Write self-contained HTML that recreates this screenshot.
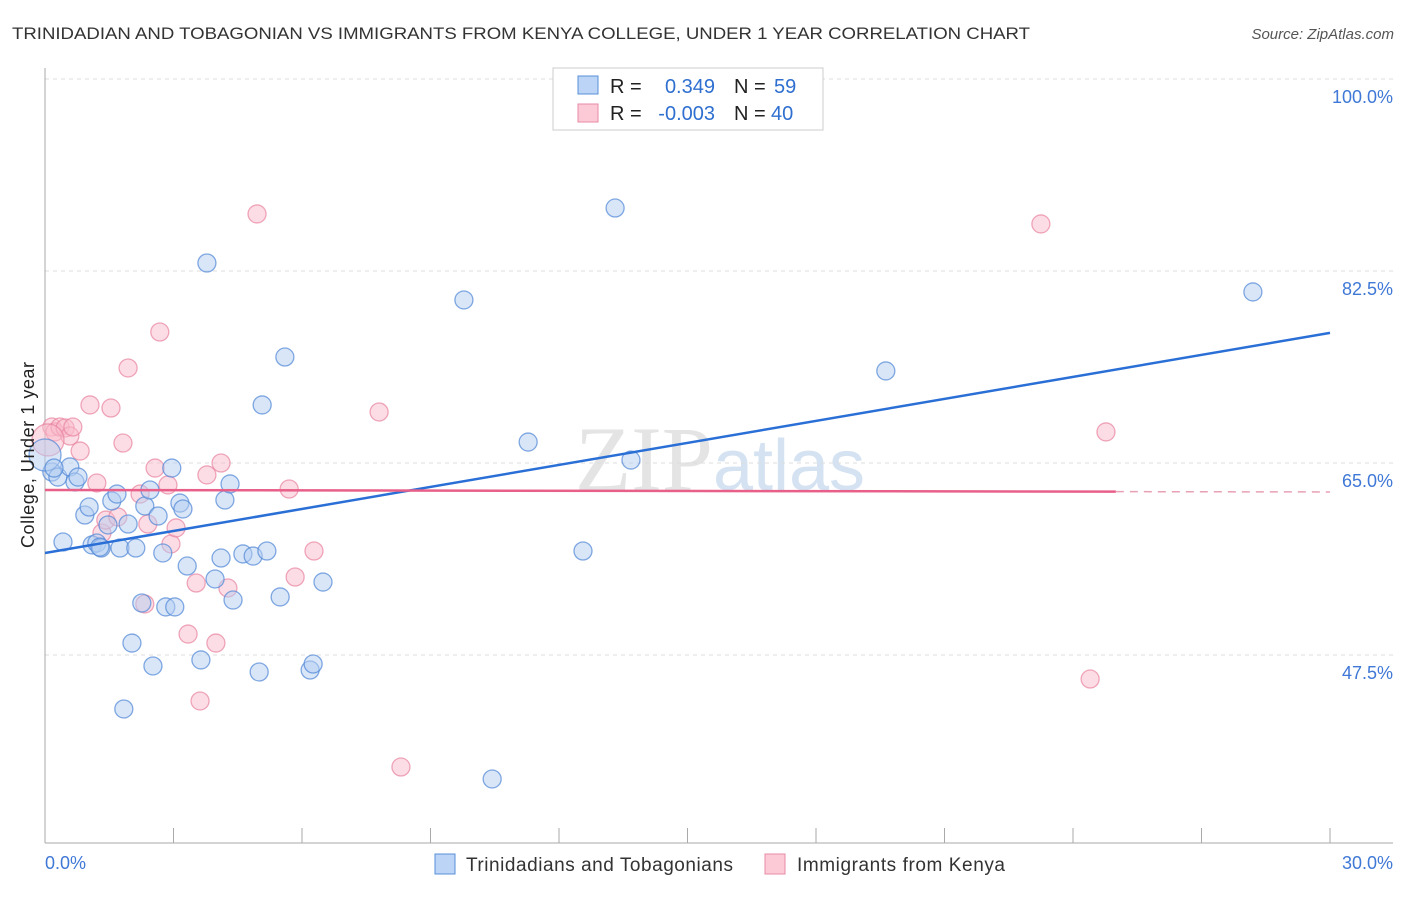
<!DOCTYPE html>
<html><head><meta charset="utf-8"><style>
body{margin:0;background:#fff;font-family:"Liberation Sans",sans-serif;}
</style></head><body>
<svg width="1406" height="892" xmlns="http://www.w3.org/2000/svg" font-family="Liberation Sans, sans-serif">
<text x="12" y="39" font-size="17" fill="#333" textLength="1018" lengthAdjust="spacingAndGlyphs">TRINIDADIAN AND TOBAGONIAN VS IMMIGRANTS FROM KENYA COLLEGE, UNDER 1 YEAR CORRELATION CHART</text>
<text x="1394" y="39" font-size="15" fill="#555" font-style="italic" text-anchor="end">Source: ZipAtlas.com</text>
<text x="720" y="490" font-size="92" fill="#e4e4e4" text-anchor="middle" font-family="Liberation Serif, serif">ZIP<tspan fill="#d4e2f2" font-family="Liberation Sans, sans-serif" font-size="72">atlas</tspan></text>
<g id="grid"></g>
<g id="axes"></g>
<g id="marks"></g>
<g id="trends"></g>
<text x="34" y="455" font-size="18" fill="#222" transform="rotate(-90 34 455)" text-anchor="middle" textLength="186">College, Under 1 year</text>
<g>
<rect x="553" y="68" width="270" height="62" fill="#fff" stroke="#ccc"/>
<rect x="578" y="76" width="20" height="18" fill="#bcd4f5" stroke="#5a8fd8"/>
<rect x="578" y="104" width="20" height="18" fill="#fcc9d6" stroke="#e88aa5"/>
<text x="610" y="93" font-size="20" fill="#222">R =</text>
<text x="715" y="93" font-size="20" fill="#2f6fd0" text-anchor="end">0.349</text>
<text x="734" y="93" font-size="20" fill="#222">N =</text>
<text x="774" y="93" font-size="20" fill="#2f6fd0">59</text>
<text x="610" y="120" font-size="20" fill="#222">R =</text>
<text x="715" y="120" font-size="20" fill="#2f6fd0" text-anchor="end">-0.003</text>
<text x="734" y="120" font-size="20" fill="#222">N =</text>
<text x="771" y="120" font-size="20" fill="#2f6fd0">40</text>
</g>
<g>
<rect x="435" y="854" width="20" height="20" fill="#bcd4f5" stroke="#5a8fd8"/>
<text x="466" y="871" font-size="19" fill="#333" textLength="267">Trinidadians and Tobagonians</text>
<rect x="765" y="854" width="20" height="20" fill="#fcc9d6" stroke="#e88aa5"/>
<text x="797" y="871" font-size="19" fill="#333" textLength="208">Immigrants from Kenya</text>
</g>
</svg>
<script>
const blueX=[0.16,0.30,0.58,0.70,0.77,0.93,1.03,1.10,1.21,1.31,1.47,1.56,1.68,1.75,1.94,2.03,1.84,2.12,2.26,2.33,2.45,2.52,2.64,2.75,2.82,2.96,3.03,3.15,3.22,3.32,3.64,3.78,3.97,4.11,4.20,4.32,4.39,4.62,4.86,5.00,5.07,5.18,5.49,5.60,6.19,6.26,6.49,9.78,10.44,11.28,12.56,13.31,13.68,19.63,28.20,0,0.42,0.21,1.28];
const blueY=[64.18,63.72,64.64,63.27,63.72,60.26,60.99,57.53,57.71,57.25,59.35,61.54,62.17,57.25,59.44,48.59,42.58,57.25,52.24,61.08,62.54,46.50,60.17,56.80,51.88,64.54,51.88,61.35,60.81,55.61,47.05,83.23,54.43,56.34,61.63,63.09,52.51,56.71,56.52,45.95,70.29,56.98,52.79,74.66,46.13,46.68,54.15,79.86,36.20,66.91,56.98,88.24,65.27,73.39,80.59,65.73,57.80,64.54,57.34];
const blueBig=[55];
const pinkX=[0.16,0.23,0.35,0.47,0.58,0.65,0.82,1.05,1.21,1.33,1.42,1.54,1.70,1.82,1.94,2.22,2.33,2.40,2.57,2.68,2.87,2.94,3.06,3.34,3.53,3.62,3.78,3.99,4.11,4.27,4.95,5.70,5.84,6.28,7.80,8.31,23.25,24.40,24.77,0.07];
const pinkY=[68.28,67.83,68.28,68.19,67.46,68.28,66.09,70.29,63.18,58.62,59.80,70.01,60.08,66.82,73.66,62.17,52.15,59.44,64.54,76.94,63.00,57.62,59.08,49.41,54.06,43.31,63.91,48.59,65.00,53.61,87.70,62.63,54.61,56.98,69.65,37.29,86.79,45.31,67.83,67.10];
const pinkBig=[39];
const blueTrend=[56.80,76.86];
const pinkTrend=[62.54,62.36];
const yTicks=[100,82.5,65,47.5];
const xTickLabels=["0.0%","30.0%"];
const NS="http://www.w3.org/2000/svg";
const sx=v=>45+v/30*1285;
const sy=v=>79+(100-v)/17.5*192;
function mk(tag,attrs,parent){const e=document.createElementNS(NS,tag);for(const k in attrs)e.setAttribute(k,attrs[k]);document.getElementById(parent).appendChild(e);return e;}
yTicks.forEach(t=>{
 const l=mk('line',{x1:45,x2:1393,y1:sy(t),y2:sy(t),stroke:'#ddd','stroke-dasharray':'4 4'},'grid');
 
 
 const tx=mk('text',{x:1393,y:sy(t)+24,'font-size':18,fill:'#3f78d6','text-anchor':'end'},'grid');
 tx.textContent=(t===100?'100.0':t.toFixed(1))+'%';
 
 
});
const ax=mk('line',{x1:45,x2:45,y1:68,y2:843,stroke:'#aaa'},'axes');


const bx=mk('line',{x1:45,x2:1393,y1:843,y2:843,stroke:'#aaa'},'axes');


for(let i=1;i<=10;i++){const t=mk('line',{x1:sx(i*3),x2:sx(i*3),y1:828,y2:843,stroke:'#aaa'},'axes');
 
 }
[[0,'start',45],[30,'end',1393]].forEach((d,i)=>{const t=mk('text',{x:d[2],y:869,'font-size':18,fill:'#3f78d6','text-anchor':d[1]},'axes');t.textContent=xTickLabels[i];
 
 });
function pts(X,Y,big,fill,stroke,name){X.forEach((x,i)=>{const r=big.includes(i)?16:9;
 const c=mk('circle',{cx:sx(x),cy:sy(Y[i]),r:r,fill:fill,'fill-opacity':0.5,stroke:stroke,'stroke-opacity':0.7,'stroke-width':1.3},'marks');
 
 });}
pts(pinkX,pinkY,pinkBig,'#f9bccb','#e8839f','kenya-point');
pts(blueX,blueY,blueBig,'#b3cdf2','#4f86d6','trinidad-point');
const bl=mk('line',{x1:sx(0),y1:sy(blueTrend[0]),x2:sx(30),y2:sy(blueTrend[1]),stroke:'#2a6fd6','stroke-width':2.5},'trends');


const pm=(pinkTrend[0]+(pinkTrend[1]-pinkTrend[0])*25/30);
const pl=mk('line',{x1:sx(0),y1:sy(pinkTrend[0]),x2:sx(25),y2:sy(pm),stroke:'#e8608a','stroke-width':2.5},'trends');


const pd=mk('line',{x1:sx(25),y1:sy(pm),x2:sx(30),y2:sy(pinkTrend[1]),stroke:'#e8a0b5','stroke-width':1.5,'stroke-dasharray':'8 6'},'trends');


</script>
</body></html>
